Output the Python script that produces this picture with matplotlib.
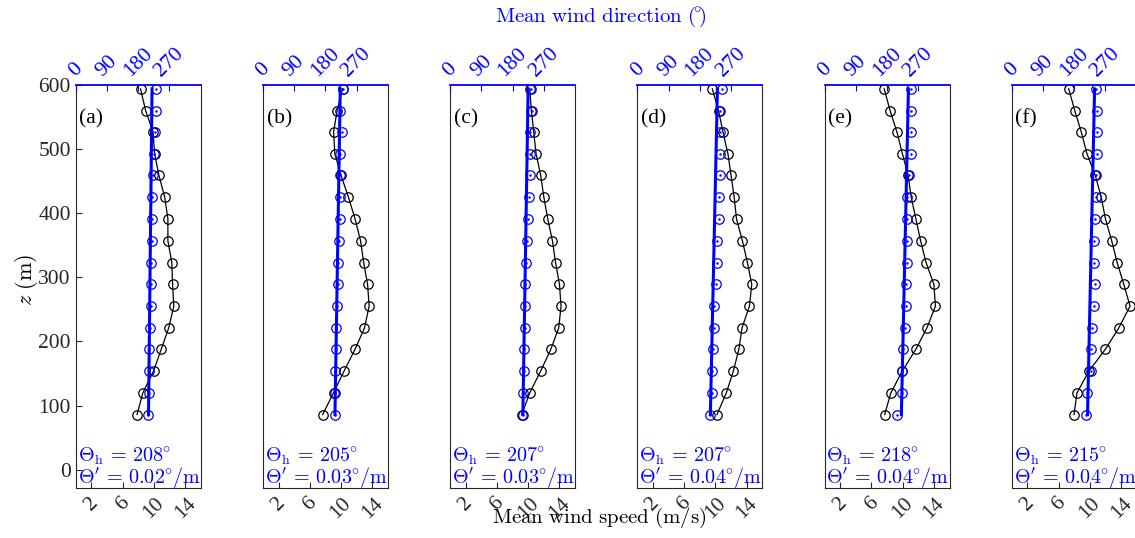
import numpy as np
import matplotlib
matplotlib.use("Agg")
import matplotlib.pyplot as plt

plt.rcParams['font.family'] = ['Liberation Serif', 'DejaVu Serif']
plt.rcParams['mathtext.fontset'] = 'cm'

# heights of the measurement levels (m)
z = np.array([86, 120, 154, 188, 221, 255, 289, 323, 357, 391, 425, 459, 493, 527, 560, 594])

panel_labels = ['(a)', '(b)', '(c)', '(d)', '(e)', '(f)']

# mean wind speed (m/s), bottom to top
speed_a = [7.85, 8.6, 9.97, 10.95, 11.9, 12.56, 12.4, 12.3, 11.8, 11.8, 11.4, 10.65, 10.1, 9.9, 8.95, 8.3]
speed_b = [7.65, 9.04, 10.4, 11.8, 13.0, 13.6, 13.4, 12.9, 12.5, 11.8, 10.95, 10.0, 9.2, 9.05, 9.5, 10.2]
speed_c = [9.17, 10.2, 11.6, 12.9, 13.9, 14.2, 14.0, 13.5, 13.1, 12.5, 12.0, 11.6, 11.0, 10.7, 10.4, 10.2]
speed_d = [10.2, 11.4, 12.3, 13.0, 13.4, 14.35, 14.65, 14.1, 13.45, 12.7, 12.4, 12.0, 11.6, 10.96, 10.4, 9.6]
speed_e = [7.7, 8.5, 9.97, 11.7, 13.1, 14.2, 14.0, 13.0, 12.3, 11.7, 11.1, 10.7, 9.97, 9.26, 8.4, 7.64]
speed_f = [7.98, 8.36, 9.9, 12.0, 13.7, 15.15, 14.35, 13.5, 12.8, 12.0, 11.46, 10.7, 9.63, 8.9, 8.07, 7.3]

# mean wind direction (deg), bottom to top
dir_a = [209, 211, 211, 211, 213, 216, 218, 218, 219, 221, 221, 222, 225, 228, 230, 230]
dir_b = [208, 208, 208, 211, 211, 213, 215, 215, 218, 223, 223, 223, 223, 228, 223, 230]
dir_c = [209, 211, 214, 214, 216, 216, 216, 219, 221, 225, 228, 230, 230, 230, 235, 233]
dir_d = [208, 215, 216, 218, 220, 222, 227, 229, 229, 234, 234, 237, 239, 237, 239, 244]
dir_e = [210, 223, 223, 227, 232, 235, 235, 237, 237, 237, 239, 244, 249, 249, 249, 249]
dir_f = [213, 218, 227, 229, 232, 237, 239, 237, 237, 240, 242, 244, 245, 245, 245, 242]

theta_h = [208, 205, 207, 207, 218, 215]
dtheta = [0.02, 0.03, 0.03, 0.04, 0.04, 0.04]

speeds = [speed_a, speed_b, speed_c, speed_d, speed_e, speed_f]
dirs = [dir_a, dir_b, dir_c, dir_d, dir_e, dir_f]

W, H = 1135, 538
fig = plt.figure(figsize=(W / 100, H / 100), dpi=100)
axc = '#262626'

for i in range(6):
    left = (75.7 + 187.2 * i) / W
    ax = fig.add_axes([left, 1 - 488.3 / H, 125 / W, 403.3 / H])
    ax.plot(speeds[i], z, '-o', color='k', mfc='none', ms=6.8, mew=0.9, lw=0.9)
    ax.set_xlim(0, 16)
    ax.set_ylim(-29, 600)
    ax.set_xticks([2, 6, 10, 14])
    ax.tick_params(direction='in', length=4, labelsize=15.5, colors=axc)
    ax.tick_params(axis='x', labelrotation=45, pad=4)
    if i == 0:
        ax.set_yticks(range(0, 601, 100))
    else:
        ax.set_yticks([])
    for s in ['left', 'right', 'bottom']:
        ax.spines[s].set_color(axc)
    ax.spines['top'].set_visible(False)
    ax.text(0.03, 0.916, panel_labels[i], transform=ax.transAxes,
            fontsize=15.5, va='center', ha='left')
    ax.text(0.015, 0.065, r'$\Theta_\mathrm{h}\,=\,%d\!^\circ$' % theta_h[i],
            transform=ax.transAxes, color='blue', fontsize=14.5, va='baseline')
    ax.text(0.015, 0.011, r"$\Theta'\,=\,%.2f\!^\circ\!/\mathrm{m}$" % dtheta[i],
            transform=ax.transAxes, color='blue', fontsize=14.5, va='baseline')

    ax2 = ax.twiny()
    ax2.plot(dirs[i], z, 'o', color='blue', mfc='none', ms=6.8, mew=0.9)
    ax2.plot(dirs[i], z, '.', color='blue', ms=1.5)
    fit = theta_h[i] + dtheta[i] * z
    ax2.plot(fit, z, '-', color='blue', lw=2.2)
    ax2.set_xlim(0, 360)
    ax2.set_xticks([0, 90, 180, 270])
    ax2.tick_params(axis='x', direction='in', length=4, labelsize=15.5,
                    colors='blue', labelrotation=45, pad=3)
    ax2.spines['top'].set_color('blue')
    ax2.spines['top'].set_linewidth(1.3)
    for s in ['left', 'right', 'bottom']:
        ax2.spines[s].set_visible(False)

fig.text(26 / W, 1 - 280 / H, r'$z\ \mathrm{(m)}$', rotation=90, fontsize=16,
         ha='center', va='center')
fig.text(599 / W, 1 - 523 / H, r'$\mathrm{Mean\ wind\ speed\ (m/s)}$', fontsize=15,
         ha='center', va='baseline')
fig.text(601 / W, 1 - 17 / H, r'$\mathrm{Mean\ wind\ direction\ (\!^{\circ}\!)}$',
         fontsize=15, ha='center', va='center', color='blue')

fig.savefig('out.png', dpi=100)
